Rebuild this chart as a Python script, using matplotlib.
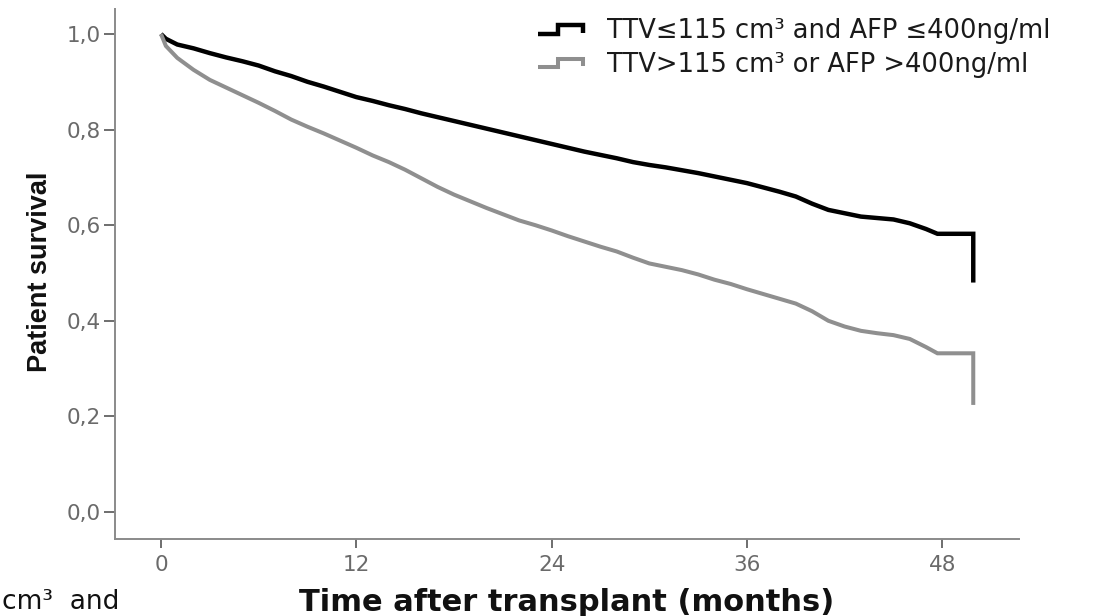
import matplotlib
matplotlib.use("Agg")
import matplotlib.pyplot as plt
from matplotlib.lines import Line2D
from matplotlib.legend_handler import HandlerBase

# Kaplan-Meier patient survival by tumour burden group
# (last two entries: plateau to the final follow-up, then the closing drop)
months_low = [0, 0.3] + list(range(1, 48)) + [47.7, 49.9, 49.9]
surv_low = [1.000, 0.990,
            0.978, 0.970, 0.960, 0.951, 0.943, 0.934, 0.922, 0.912, 0.900, 0.890,
            0.879, 0.868, 0.860, 0.851, 0.843, 0.834, 0.826, 0.818, 0.810, 0.802,
            0.794, 0.786, 0.778, 0.770, 0.762, 0.754, 0.747, 0.740, 0.732, 0.726,
            0.721, 0.715, 0.709, 0.702, 0.695, 0.688, 0.679, 0.670, 0.660, 0.645,
            0.632, 0.625, 0.618, 0.615, 0.612, 0.604, 0.592,
            0.582, 0.582, 0.480]

months_high = [0, 0.3] + list(range(1, 48)) + [47.7, 49.9, 49.9]
surv_high = [1.000, 0.975,
             0.950, 0.925, 0.904, 0.888, 0.872, 0.856, 0.839, 0.821, 0.806, 0.792,
             0.777, 0.762, 0.746, 0.732, 0.716, 0.698, 0.680, 0.664, 0.650, 0.636,
             0.623, 0.610, 0.600, 0.589, 0.577, 0.566, 0.555, 0.545, 0.532, 0.520,
             0.513, 0.506, 0.497, 0.486, 0.477, 0.466, 0.456, 0.446, 0.436, 0.420,
             0.400, 0.388, 0.379, 0.374, 0.370, 0.362, 0.345,
             0.332, 0.332, 0.224]

series_labels = ["TTV≤115 cm³ and AFP ≤400ng/ml",
                 "TTV>115 cm³ or AFP >400ng/ml"]
x_ticks = [0, 12, 24, 36, 48]
y_ticks = [0.0, 0.2, 0.4, 0.6, 0.8, 1.0]
y_tick_labels = ["0,0", "0,2", "0,4", "0,6", "0,8", "1,0"]

W, H = 1114, 616
fig = plt.figure(figsize=(W / 100, H / 100), dpi=100)
ax = fig.add_axes([115 / W, 1 - 539 / H, (1019 - 115) / W, (539 - 9) / H])

l1, = ax.plot(months_low, surv_low, color="black",
              lw=3.2, solid_joinstyle="miter", solid_capstyle="butt",
              label=series_labels[0])
l2, = ax.plot(months_high, surv_high, color="#8f8f8f",
              lw=2.9, solid_joinstyle="miter", solid_capstyle="butt",
              label=series_labels[1])

ax.set_xlim(-2.826, 52.71)
ax.set_ylim(-0.0565, 1.0523)
ax.set_xticks(x_ticks)
ax.set_xticklabels([str(t) for t in x_ticks])
ax.set_yticks(y_ticks)
ax.set_yticklabels(y_tick_labels)

for side in ("top", "right"):
    ax.spines[side].set_visible(False)
for side in ("left", "bottom"):
    ax.spines[side].set_color("#8a8a8a")
    ax.spines[side].set_linewidth(1.4)

ax.tick_params(axis="y", direction="out", length=8, width=1.2, color="#555555",
               pad=2.5, labelcolor="#6a6a6a", labelsize=15.5)
ax.tick_params(axis="x", direction="out", length=6.5, width=1.2, color="#555555",
               pad=5, labelcolor="#6a6a6a", labelsize=15.5)
for lab in ax.get_xticklabels() + ax.get_yticklabels():
    lab.set_family("DejaVu Sans")

ax.set_xlabel("Time after transplant (months)", fontsize=22,
              fontweight="bold", family="DejaVu Sans", color="#111111")
ax.xaxis.set_label_coords(0.5, -0.119)
ax.xaxis.label.set_va("center")

ax.set_ylabel("Patient survival", fontsize=19.5, fontweight="bold",
              family="Liberation Sans", color="#111111")
ax.yaxis.set_label_coords(-0.083, 0.504)
ax.yaxis.label.set_va("center")
ax.yaxis.label.set_ha("center")


class StepHandler(HandlerBase):
    """Legend key drawn as a small survival step."""

    def create_artists(self, legend, orig_handle, xdescent, ydescent,
                       width, height, fontsize, trans):
        x0, y0 = -xdescent, -ydescent
        xs = [x0, x0 + 0.45 * width, x0 + 0.45 * width, x0 + width, x0 + width]
        ys = [y0 + 0.25 * height, y0 + 0.25 * height, y0 + 0.7 * height,
              y0 + 0.7 * height, y0 + 0.3 * height]
        key = Line2D(xs, ys, color=orig_handle.get_color(),
                     lw=orig_handle.get_linewidth(),
                     solid_joinstyle="miter", solid_capstyle="butt")
        key.set_transform(trans)
        return [key]


leg = ax.legend(handles=[l1, l2], labels=series_labels,
                handler_map={Line2D: StepHandler()},
                loc="upper left", bbox_to_anchor=(538 / W, 1 - 18 / H),
                bbox_transform=fig.transFigure, frameon=False,
                borderaxespad=0, borderpad=0, handlelength=1.75,
                handletextpad=0.95, labelspacing=0.3,
                prop={"family": "DejaVu Sans", "size": 18.5})
for t in leg.get_texts():
    t.set_color("#1a1a1a")

fig.text(0.002, 1 - 602 / H, "cm³  and", fontsize=19, family="DejaVu Sans",
         color="#111111", ha="left", va="center")

fig.savefig("out.png", dpi=100, facecolor="white")
